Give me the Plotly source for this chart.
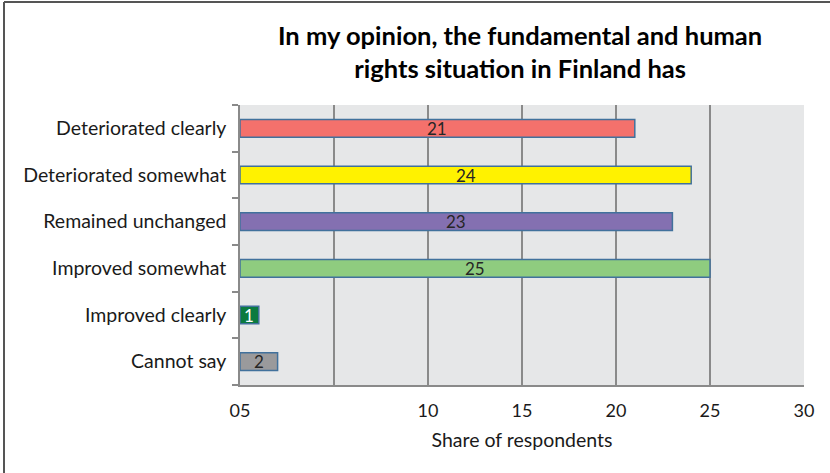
import plotly.graph_objects as go

# Survey answers (share of respondents, %)
categories = [
    "Deteriorated clearly",
    "Deteriorated somewhat",
    "Remained unchanged",
    "Improved somewhat",
    "Improved clearly",
    "Cannot say",
]
shares = [21, 24, 23, 25, 1, 2]
bar_colors = ["#f4716c", "#fff200", "#8470b1", "#8fcc7f", "#0b7a3f", "#9a9a9c"]
label_colors = ["#262626", "#262626", "#262626", "#262626", "#ffffff", "#262626"]

tick_values = [0, 5, 10, 15, 20, 25, 30]
tick_labels = ["05", "", "10", "15", "20", "25", "30"]

TITLE = "<b>In my opinion, the fundamental and human<br>rights situation in Finland has</b>"
FONT = "Lato, Open Sans, sans-serif"

fig = go.Figure()

fig.add_trace(go.Bar(
    x=shares,
    y=categories,
    orientation="h",
    marker=dict(color=bar_colors, line=dict(color="#41719c", width=1.5)),
    hoverinfo="skip",
))

# Value labels centred on each bar
for cat, val, col in zip(categories, shares, label_colors):
    fig.add_annotation(
        x=val / 2, y=cat, xref="x", yref="y",
        text=str(val), showarrow=False,
        xanchor="center", yanchor="middle", yshift=0,
        font=dict(family=FONT, size=17, color=col),
    )

fig.update_layout(
    width=830,
    height=473,
    margin=dict(l=240, r=26, t=105, b=88),
    paper_bgcolor="#ffffff",
    plot_bgcolor="#e6e7e8",
    showlegend=False,
    bargap=0.62,
    font=dict(family=FONT, size=19, color="#1a1a1a"),
    xaxis=dict(
        range=[0, 30],
        tickvals=tick_values,
        ticktext=tick_labels,
        showgrid=True,
        gridcolor="#8a8a8a",
        gridwidth=1.5,
        zeroline=False,
        showline=True,
        linecolor="#8a8a8a",
        linewidth=1.5,
        ticks="",
        ticklabelstandoff=9,
        tickfont=dict(family=FONT, size=18, color="#1a1a1a"),
        title=dict(text="Share of respondents", standoff=13,
                   font=dict(family=FONT, size=19.5, color="#1a1a1a")),
        mirror=False,
        fixedrange=True,
    ),
    yaxis=dict(
        categoryorder="array",
        categoryarray=categories[::-1],
        autorange=False,
        range=[-0.5, 5.5],
        tickson="boundaries",
        ticks="outside",
        ticklen=6,
        tickcolor="#8a8a8a",
        tickwidth=1.5,
        showline=True,
        linecolor="#8a8a8a",
        linewidth=1.5,
        showgrid=False,
        ticklabelstandoff=8,
        tickfont=dict(family=FONT, size=19.5, color="#1a1a1a"),
        fixedrange=True,
    ),
)

# Chart title
fig.add_annotation(
    text=TITLE,
    xref="paper", yref="paper",
    x=(520 - 240) / 564, y=(385 - 51.5) / 280,
    xanchor="center", yanchor="middle",
    showarrow=False,
    align="center",
    font=dict(family=FONT, size=25.5, color="#000000"),
)

# Outer frame of the chart (top and left edges)
fig.add_shape(type="line", xref="paper", yref="paper",
              x0=(4 - 240) / 564, x1=(832 - 240) / 564,
              y0=(385 - 2) / 280, y1=(385 - 2) / 280,
              line=dict(color="#555555", width=2))
fig.add_shape(type="line", xref="paper", yref="paper",
              x0=(4 - 240) / 564, x1=(4 - 240) / 564,
              y0=(385 - 2) / 280, y1=(385 - 476) / 280,
              line=dict(color="#555555", width=2))

fig.write_html("out.html")
